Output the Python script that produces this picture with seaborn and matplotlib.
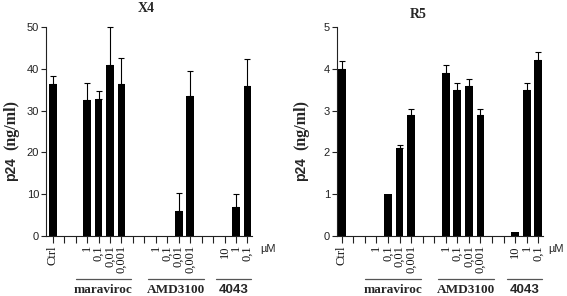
import matplotlib
matplotlib.use("Agg")
import matplotlib.pyplot as plt
import seaborn as sns
import pandas as pd
from matplotlib.transforms import blended_transform_factory

sns.set_theme(style="ticks")
plt.rcParams['font.family'] = ['Liberation Sans', 'DejaVu Sans']

# ---- data ----
positions = list(range(18))
tick_labels = ["Ctrl", "", "", "1", "0,1", "0,01", "0,001", "", "",
               "1", "0,1", "0,01", "0,001", "", "", "10", "1", "0,1"]
x4_values = [36.3, 0, 0, 32.5, 32.8, 41.0, 36.3, 0, 0,
             0, 0, 6.0, 33.5, 0, 0, 0, 7.0, 35.8]
x4_err = [2.0, 0, 0, 4.0, 1.8, 9.0, 6.2, 0, 0,
          0, 0, 4.2, 6.0, 0, 0, 0, 3.0, 6.5]
r5_values = [4.0, 0, 0, 0, 1.0, 2.1, 2.9, 0, 0,
             3.9, 3.5, 3.6, 2.9, 0, 0, 0.1, 3.5, 4.2]
r5_err = [0.18, 0, 0, 0, 0.0, 0.07, 0.14, 0, 0,
          0.18, 0.16, 0.16, 0.14, 0, 0, 0, 0.16, 0.2]
groups = ["maraviroc", "AMD3100", "4043"]
group_spans = [(2.0, 6.85), (8.3, 13.2), (14.3, 17.35)]
unit = "\u00b5M"

W, H = 567, 296
fig = plt.figure(figsize=(W / 100, H / 100), dpi=100)

panels = [
    dict(name="X4", vals=x4_values, err=x4_err, rect=[46, 27, 206, 209],
         xlim=(-0.585, 17.4), ylim=50, step=10, title_xy=(146.5, 9),
         ylab_x=11, unit_x=268),
    dict(name="R5", vals=r5_values, err=r5_err, rect=[337, 27, 206, 209],
         xlim=(-0.41, 17.41), ylim=5, step=1, title_xy=(418, 15),
         ylab_x=301, unit_x=556),
]

for p in panels:
    l, t, w, h = p["rect"]
    ax = fig.add_axes([l / W, (H - t - h) / H, w / W, h / H])
    df = pd.DataFrame({"pos": positions, "val": p["vals"]})
    sns.barplot(data=df, x="pos", y="val", order=positions, color="black",
                saturation=1, width=0.68, ax=ax, errorbar=None,
                edgecolor="black", linewidth=0)
    xs = [x for x, e in zip(positions, p["err"]) if e > 0]
    ys = [v for v, e in zip(p["vals"], p["err"]) if e > 0]
    es = [e for e in p["err"] if e > 0]
    ax.errorbar(xs, ys, yerr=[[0] * len(es), es], fmt="none", ecolor="black",
                elinewidth=0.8, capsize=2.4, capthick=0.8, clip_on=False)
    ax.set_xlim(*p["xlim"])
    ax.set_ylim(0, p["ylim"])
    ax.set_yticks(range(0, p["ylim"] + 1, p["step"]))
    ax.set_yticklabels([str(v) for v in range(0, p["ylim"] + 1, p["step"])],
                       fontsize=8, fontfamily="Liberation Sans", color="#222")
    ax.set_xticks(positions)
    ax.set_xticklabels(tick_labels, rotation=90, fontsize=9,
                       fontfamily="Liberation Serif", color="#111")
    ax.tick_params(axis="x", length=5, width=0.8, pad=1.5, color="#222")
    ax.tick_params(axis="y", length=3.5, width=0.8, pad=1.5, color="#222")
    ax.set_xlabel("")
    ax.set_ylabel("")
    for s in ["top", "right"]:
        ax.spines[s].set_visible(False)
    for s in ["left", "bottom"]:
        ax.spines[s].set_linewidth(0.8)
        ax.spines[s].set_color("#222")

    tr = blended_transform_factory(ax.transData, ax.transAxes)
    for g, (a, b) in zip(groups, group_spans):
        ax.plot([a, b], [-0.206, -0.206], transform=tr, color="#555",
                lw=0.9, clip_on=False)
        fam = "Liberation Sans" if g[0].isdigit() else "Liberation Serif"
        ax.text((a + b) / 2, -0.258, g, transform=tr, ha="center", va="center",
                fontsize=9.5, fontweight="bold", fontfamily=fam)

    fig.text(p["unit_x"] / W, (H - 249) / H, unit, ha="center", va="center",
             fontsize=8, fontfamily="Liberation Sans")
    tx, ty = p["title_xy"]
    fig.text(tx / W, (H - ty) / H, p["name"], ha="center", va="center",
             fontsize=10, fontweight="bold", fontfamily="Liberation Serif")
    fig.text(p["ylab_x"] / W, (H - 181) / H, "p24", rotation=90, ha="center",
             va="bottom", fontsize=10, fontweight="bold",
             fontfamily="Liberation Sans")
    fig.text(p["ylab_x"] / W, (H - 100) / H, "(ng/ml)", rotation=90,
             ha="center", va="top", fontsize=11.5, fontweight="bold",
             fontfamily="Liberation Serif")

fig.savefig("out.png", dpi=100)
